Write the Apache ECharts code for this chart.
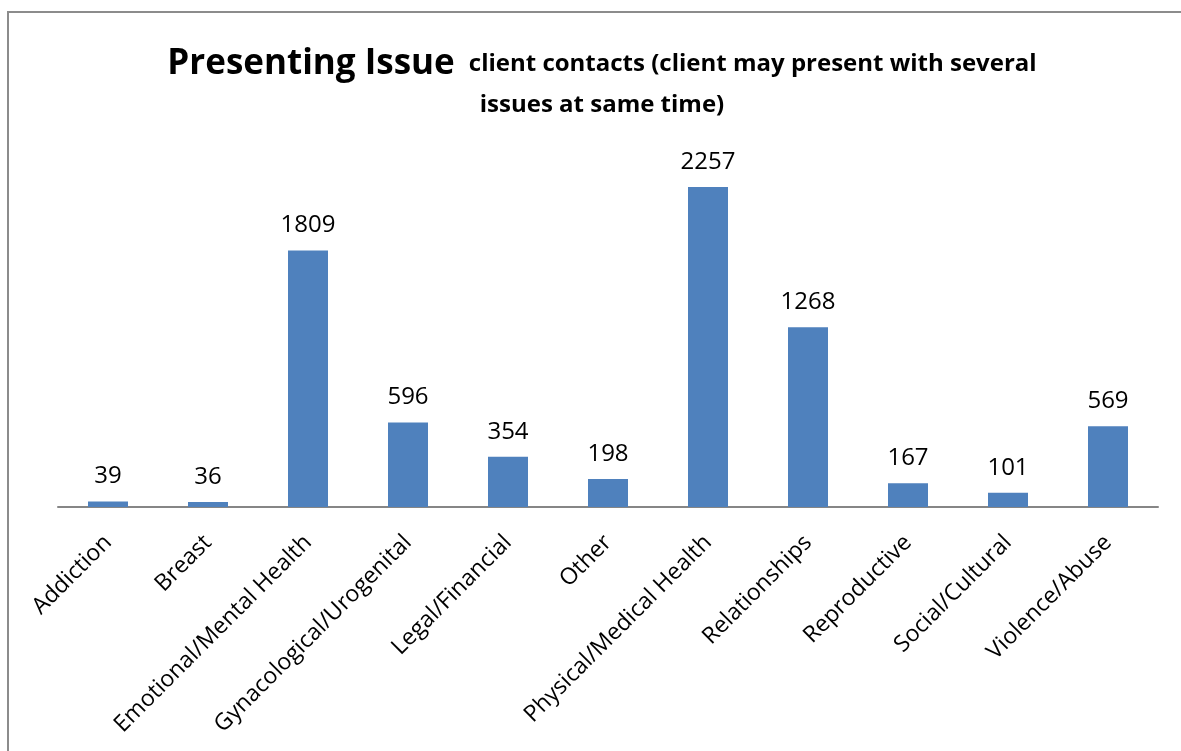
<!DOCTYPE html>
<html>
<head>
<meta charset="utf-8">
<script src="https://cdn.jsdelivr.net/npm/echarts@6/dist/echarts.min.js"></script>
<style>
  html, body { margin: 0; padding: 0; background: #fff; }
  #chart { width: 1181px; height: 751px; }
</style>
</head>
<body>
<div id="chart"></div>
<script>
// Presenting issues recorded across client contacts
const categories = [
  'Addiction', 'Breast', 'Emotional/Mental Health', 'Gynacological/Urogenital',
  'Legal/Financial', 'Other', 'Physical/Medical Health', 'Relationships',
  'Reproductive', 'Social/Cultural', 'Violence/Abuse'
];
const contacts = [39, 36, 1809, 596, 354, 198, 2257, 1268, 167, 101, 569];

const FONT = '"Open Sans", Lato, sans-serif';

const chart = echarts.init(document.getElementById('chart'));
chart.setOption({
  animation: false,
  backgroundColor: '#ffffff',
  graphic: [{
    type: 'rect',
    shape: { x: 8, y: 12, width: 1300, height: 900 },
    style: { fill: 'none', stroke: '#8c8c8c', lineWidth: 2 },
    silent: true
  }],
  title: {
    left: 597,
    top: 36,
    textAlign: 'center',
    text: '{a|Presenting Issue}{b|client contacts (client may present with several}\n{b|issues at same time)}',
    textStyle: {
      rich: {
        a: { fontFamily: FONT, fontWeight: 'bold', fontSize: 35, color: '#000', lineHeight: 46, padding: [0, 14, 0, 0] },
        b: { fontFamily: FONT, fontWeight: 'bold', fontSize: 24, color: '#000', lineHeight: 36 }
      }
    }
  },
  grid: { left: 58, right: 23, top: 152.5, bottom: 244, containLabel: false },
  xAxis: {
    type: 'category',
    data: categories,
    axisLine: { lineStyle: { color: '#868686', width: 2 } },
    axisTick: { show: false },
    axisLabel: {
      rotate: 45,
      interval: 0,
      margin: 32,
      fontFamily: FONT,
      fontSize: 23,
      color: '#000'
    }
  },
  yAxis: {
    type: 'value',
    min: 0,
    max: 2500,
    show: false,
    splitLine: { show: false }
  },
  series: [{
    type: 'bar',
    data: contacts,
    barWidth: 40,
    itemStyle: { color: '#4F81BD' },
    label: {
      show: true,
      position: 'top',
      distance: 13,
      fontFamily: FONT,
      fontSize: 24,
      color: '#000'
    }
  }]
});
</script>
</body>
</html>
